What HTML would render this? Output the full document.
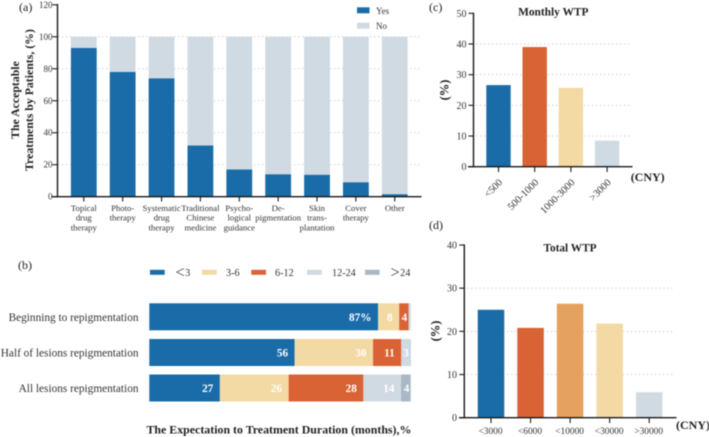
<!DOCTYPE html>
<html lang="en">
<head>
<meta charset="utf-8">
<title>Treatment acceptance, expected duration and willingness to pay</title>
<style>
html,body{margin:0;padding:0;background:#fff;}
#figure{display:block;width:709px;height:437px;filter:blur(0.45px);font-family:"Liberation Serif",serif;}
</style>
</head>
<body>
<svg id="figure" xmlns="http://www.w3.org/2000/svg" width="709" height="437" viewBox="0 0 709 437"></svg>
<script>
// Panel (a)
const aCategories = [["Topical","drug","therapy"],["Photo-","therapy"],["Systematic","drug","therapy"],["Traditional","Chinese","medicine"],["Psycho-","logical","guidance"],["De-","pigmentation"],["Skin","trans-","plantation"],["Cover","therapy"],["Other"]];
const aYes = [93,78,74,32,17,14,13.7,9,1.5];
const aNo = [7,22,26,68,83,86,86.3,91,98.5];
const aTicks = [0,20,40,60,80,100,120];
const aGrid = [20,40,60,80,100];
// Panel (b)
const bRows = ["Beginning to repigmentation","Half of lesions repigmentation","All lesions repigmentation"];
const bLegend = ["＜3","3-6","6-12","12-24","＞24"];
const bLess3 = [87.5,55.6,27];
const b3to6 = [8.1,30,26.3];
const b6to12 = [3.6,10.8,28.6];
const b12to24 = [0.8,3.4,14.4];
const bOver24 = [0,0.2,3.7];
const bPrinted = [["87%","8","4","",""],["56","30","11","3",""],["27","26","28","14","4"]];
// Panel (c)
const cCategories = ["<500","500-1000","1000-3000",">3000"];
const cValues = [26.6,39,25.7,8.5];
const cTicks = [0,10,20,30,40,50];
const cGrid = [10,20,30,40];
// Panel (d)
const dCategories = ["<3000","<6000","<10000","<30000",">30000"];
const dValues = [25,20.8,26.4,21.8,5.9];
const dTicks = [0,10,20,30,40];
const dGrid = [10,20,30];

const BLUE="#1a6ca8",LIGHT="#d0dae2",YELLOW="#f3d9a3",ORANGE="#d96335",AMBER="#e5a15f",SLATE="#a9b8c4",INK="#1a1a1a",TEXT="#333";
const svg=document.getElementById('figure');
function make(tag,attrs,parent){
  const el=document.createElementNS('http://www.w3.org/2000/svg',tag);
  for(const k in attrs){el.setAttribute(k,attrs[k]);}
  (parent||svg).appendChild(el);
  return el;
}
function label(txt,x,y,size,opts,parent){
  const el=make('text',Object.assign({x:x,y:y,'font-size':size,fill:TEXT},opts||{}),parent);
  el.textContent=txt;
  return el;
}
function linear(d0,d1,r0,r1){return v=>r0+(v-d0)*(r1-r0)/(d1-d0);}
function dotted(x0,x1,y,parent){
  return make('line',{x1:x0,x2:x1,y1:y,y2:y,stroke:'#c9c9c9','stroke-width':1,'stroke-dasharray':'1.3 2.7'},parent);
}

/* ---------- panel a ---------- */
const ga=make('g',{});


const aY=linear(0,100,196.7,36.8);
const aX=i=>83.8+i*38.87;
const aBarW=25.8;
aGrid.forEach(v=>{
  const el=dotted(58,421,aY(v),ga);
  
  
});
aCategories.forEach((lines,i)=>{
  const no=make('rect',{x:aX(i)-aBarW/2,y:aY(aYes[i]+aNo[i]),width:aBarW,height:aY(aYes[i])-aY(aYes[i]+aNo[i]),fill:LIGHT},ga);
  
  
  const yes=make('rect',{x:aX(i)-aBarW/2,y:aY(aYes[i]),width:aBarW,height:aY(0)-aY(aYes[i]),fill:BLUE},ga);
  
  
  const tick=make('line',{x1:aX(i),x2:aX(i),y1:196.7,y2:201.5,stroke:INK,'stroke-width':1.1},ga);
  
  
  lines.forEach((ln,j)=>{
    const t=label(ln,aX(i),211+j*9.7,8.7,{'text-anchor':'middle'},ga);
    
    
  });
});
const aAxisY=make('line',{x1:57.5,x2:57.5,y1:4,y2:197.5,stroke:INK,'stroke-width':1.4},ga);


const aAxisX=make('line',{x1:52,x2:421.5,y1:196.7,y2:196.7,stroke:INK,'stroke-width':1.4},ga);


aTicks.forEach(v=>{
  const tk=make('line',{x1:52.5,x2:57.5,y1:aY(v),y2:aY(v),stroke:INK,'stroke-width':1.1},ga);
  
  
  const t=label(String(v),52.5,aY(v)+3,9,{'text-anchor':'end'},ga);
  
  
});
const aT1=label('The Acceptable',0,0,11.8,{'text-anchor':'middle','font-weight':'bold',fill:'#222',transform:'translate(19,100) rotate(-90)'},ga);


const aT2=label('Treatments by Patients, (%)',0,0,11.8,{'text-anchor':'middle','font-weight':'bold',fill:'#222',transform:'translate(33,100) rotate(-90)'},ga);


const aS1=make('rect',{x:357,y:7.3,width:12.5,height:6,fill:BLUE},ga);


const aL1=label('Yes',376,14,9,{},ga);


const aS2=make('rect',{x:357,y:22.7,width:12.5,height:6,fill:LIGHT},ga);


const aL2=label('No',376,29,9,{},ga);



/* ---------- panel b ---------- */
const gb=make('g',{});


const bX=linear(0,100,149.3,410.7);
const bRowY=[303.3,339,374.5];
const bBarH=27;
const bSeries=[bLess3,b3to6,b6to12,b12to24,bOver24];
const bColors=[BLUE,YELLOW,ORANGE,LIGHT,SLATE];
bRows.forEach((name,r)=>{
  const rl=label(name,138.5,bRowY[r]+17.5,11.3,{'text-anchor':'end'},gb);
  
  
  let cum=0;
  bSeries.forEach((series,s)=>{
    const v=series[r];
    const x0=bX(cum),x1=bX(cum+v);
    const seg=make('rect',{x:x0,y:bRowY[r],width:x1-x0,height:bBarH,fill:bColors[s]},gb);
    
    
    cum+=v;
    const txt=bPrinted[r][s];
    if(txt){
      const off=(x1-x0)>14?6.6:1.4;
      const vl=label(txt,x1-off,bRowY[r]+17.5,11.2,{'text-anchor':'end','font-weight':'bold',fill:'#fff'},gb);
      
      
    }
  });
});
const bLegendSwatchX=[150,202,251.3,307,365];
const bLegendTextX=[175,226,275,332,390];
bLegend.forEach((name,i)=>{
  const sw=make('rect',{x:bLegendSwatchX[i],y:269.8,width:14.7,height:5,fill:bColors[i]},gb);
  
  
  const tw=label(name,bLegendTextX[i],276,10.2,{},gb);
  
  
});
const bTitle=label('The Expectation to Treatment Duration (months),%',146.5,433.5,11.9,{'font-weight':'bold',fill:'#222'},gb);



/* ---------- panel c ---------- */
const gc=make('g',{});


const cY=linear(0,50,166.7,13.3);
const cX=i=>498.5+i*36.2;
const cBarW=24.4;
const cColors=[BLUE,ORANGE,YELLOW,LIGHT];
cGrid.forEach(v=>{
  const el=dotted(476,630,cY(v),gc);
  
  
});
cCategories.forEach((name,i)=>{
  const bar=make('rect',{x:cX(i)-cBarW/2,y:cY(cValues[i]),width:cBarW,height:cY(0)-cY(cValues[i]),fill:cColors[i]},gc);
  
  
  const tk=make('line',{x1:cX(i),x2:cX(i),y1:166.7,y2:172,stroke:INK,'stroke-width':1.1},gc);
  
  
  const t=label(name,0,0,10.2,{'text-anchor':'end',transform:'translate('+(cX(i)+4.5)+',183) rotate(-45)'},gc);
  
  
});
const cAxisY=make('line',{x1:473.5,x2:473.5,y1:12.7,y2:167.4,stroke:INK,'stroke-width':1.4},gc);


const cAxisX=make('line',{x1:468,x2:632.5,y1:166.7,y2:166.7,stroke:INK,'stroke-width':1.4},gc);


cTicks.forEach(v=>{
  const tk=make('line',{x1:468.5,x2:473.5,y1:cY(v),y2:cY(v),stroke:INK,'stroke-width':1.1},gc);
  
  
  const t=label(String(v),466.5,cY(v)+3.5,10,{'text-anchor':'end'},gc);
  
  
});
const cTitle=label('Monthly WTP',553.3,15.7,11.4,{'text-anchor':'middle','font-weight':'bold',fill:'#222'},gc);


const cUnit=label('(CNY)',630.7,181,12,{'font-weight':'bold',fill:'#222'},gc);


const cYT=label('(%)',0,0,12.5,{'text-anchor':'middle','font-weight':'bold',fill:'#222',transform:'translate(448.5,90) rotate(-90)'},gc);



/* ---------- panel d ---------- */
const gd=make('g',{});


const dY=linear(0,40,417.7,245);
const dX=i=>491+i*39.55;
const dBarW=26.5;
const dColors=[BLUE,ORANGE,AMBER,YELLOW,LIGHT];
dGrid.forEach(v=>{
  const el=dotted(467,675,dY(v),gd);
  
  
});
dCategories.forEach((name,i)=>{
  const bar=make('rect',{x:dX(i)-dBarW/2,y:dY(dValues[i]),width:dBarW,height:dY(0)-dY(dValues[i]),fill:dColors[i]},gd);
  
  
  const tk=make('line',{x1:dX(i),x2:dX(i),y1:417.7,y2:423,stroke:INK,'stroke-width':1.1},gd);
  
  
  const t=label(name,dX(i)-0.5,434,9.4,{'text-anchor':'middle'},gd);
  
  
});
const dAxisY=make('line',{x1:464.3,x2:464.3,y1:244.4,y2:418.4,stroke:INK,'stroke-width':1.4},gd);


const dAxisX=make('line',{x1:459,x2:676.5,y1:417.7,y2:417.7,stroke:INK,'stroke-width':1.4},gd);


dTicks.forEach(v=>{
  const tk=make('line',{x1:459.3,x2:464.3,y1:dY(v),y2:dY(v),stroke:INK,'stroke-width':1.1},gd);
  
  
  const t=label(String(v),457,dY(v)+3.5,10,{'text-anchor':'end'},gd);
  
  
});
const dTitle=label('Total WTP',570,251.7,11.3,{'text-anchor':'middle','font-weight':'bold',fill:'#222'},gd);


const dUnit=label('(CNY)',676,429,12,{'font-weight':'bold',fill:'#222'},gd);


const dYT=label('(%)',0,0,12.5,{'text-anchor':'middle','font-weight':'bold',fill:'#222',transform:'translate(439.5,331) rotate(-90)'},gd);



/* ---------- panel letters ---------- */
const pa=label('(a)',19,11,12,{fill:'#222'});


const pb=label('(b)',18,269,12,{fill:'#222'});


const pc=label('(c)',429,11,12,{fill:'#222'});


const pd=label('(d)',429,229,12,{fill:'#222'});


</script>
</body>
</html>
